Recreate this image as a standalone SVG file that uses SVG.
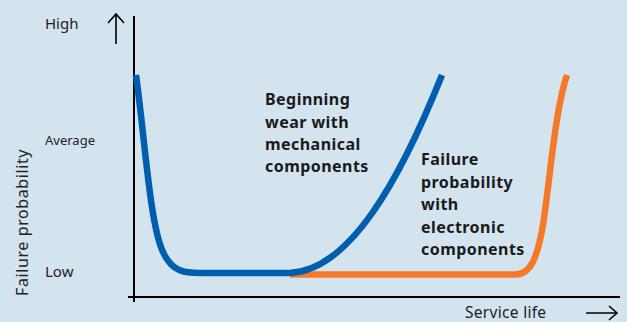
<svg xmlns="http://www.w3.org/2000/svg" width="627" height="322" viewBox="0 0 627 322">
<style>
.ax{stroke:#000;stroke-width:2;fill:none}
.arr{stroke:#000;stroke-width:1.6;fill:none}
.t{font-family:"Noto Sans","Open Sans",sans-serif;fill:#222}
.lbl{font-size:15px}
.sm{font-size:13px}
.b{font-family:"Noto Sans","Open Sans",sans-serif;font-weight:bold;font-size:16px;letter-spacing:0.45px;fill:#1a1a1a}
.curve{fill:none;stroke-width:6.5;stroke-linecap:butt;stroke-linejoin:round}
</style>
<rect width="627" height="322" fill="#d4e4ef"/>
<g id="axes">
<path class="ax" d="M134,16 V302"/>
<path class="ax" d="M128,297 H620"/>
<path class="arr" d="M116,44 V14 M108,23 L116,14 L124,23"/>
<path class="arr" d="M586,313 H617 M609,306 L617,313 L609,320"/>
</g>
<g id="axis-labels">
<text class="t lbl" x="45" y="29">High</text>
<text class="t sm" x="45" y="145">Average</text>
<text class="t lbl" x="45" y="277">Low</text>
<text class="t lbl" style="font-size:16px;letter-spacing:0.6px" transform="translate(28,296) rotate(-90)">Failure probability</text>
<text class="t lbl" style="font-size:15.5px;letter-spacing:0.3px" x="465" y="318">Service life</text>
</g>
<g id="curves">
<path id="electronic" class="curve" stroke="#f47a2a" d="M290,274.5 L515,274.5 C530,274.5 537,260 543,225 C550,180 555,110 567,75"/>
<path id="mechanical" class="curve" stroke="#005eae" d="M136,75 C145,140 150,225 163,252 C172,272 185,273 200,273 L290,273 C350,270 400,180 442,75"/>
</g>
<g id="label-mechanical">
<text class="b" x="265" y="105">Beginning</text>
<text class="b" x="265" y="128">wear with</text>
<text class="b" x="265" y="150">mechanical</text>
<text class="b" x="265" y="172">components</text>
</g>
<g id="label-electronic">
<text class="b" x="421" y="165">Failure</text>
<text class="b" x="421" y="188">probability</text>
<text class="b" x="421" y="210">with</text>
<text class="b" x="421" y="233">electronic</text>
<text class="b" x="421" y="255">components</text>
</g>
</svg>
